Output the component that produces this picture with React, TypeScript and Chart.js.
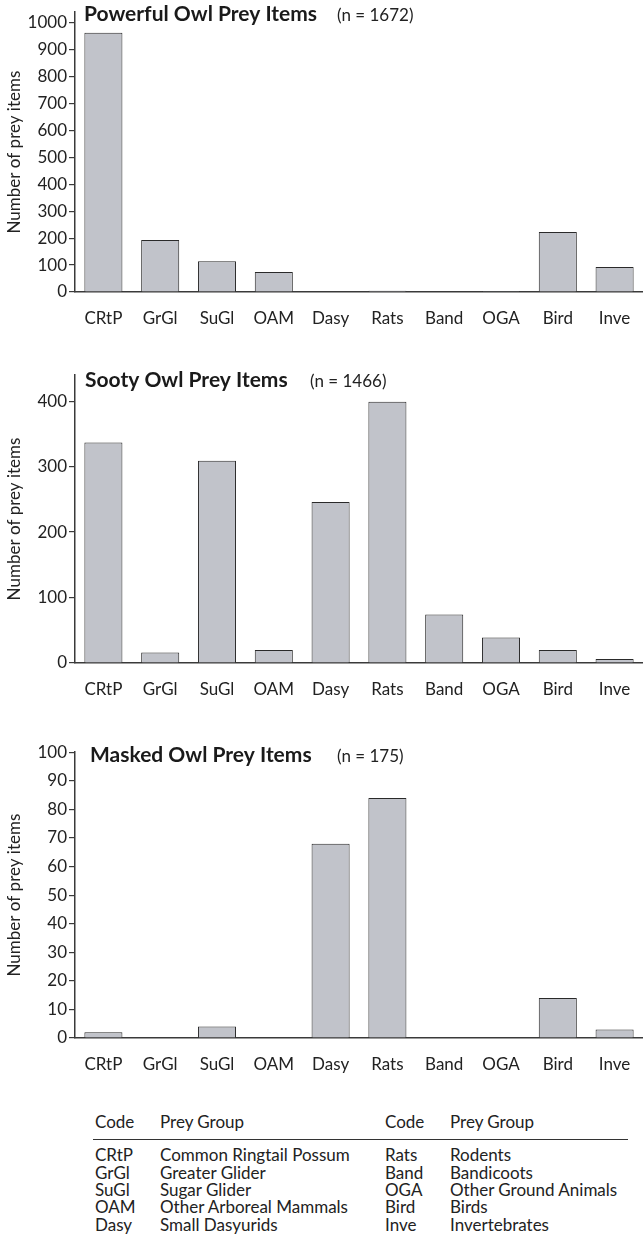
import React, { useEffect, useRef } from "react";
import { Chart, registerables } from "chart.js";
Chart.register(...registerables);

const categories = ["CRtP", "GrGl", "SuGl", "OAM", "Dasy", "Rats", "Band", "OGA", "Bird", "Inve"];
const powerfulValues = [964, 193, 114, 74, 0, 5, 2, 4, 223, 93];
const sootyValues = [337, 16, 309, 20, 246, 399, 74, 39, 20, 6];
const maskedValues = [2, 0, 4, 0, 68, 84, 0, 0, 14, 3];

const powerfulTicks = [0, 100, 200, 300, 400, 500, 600, 700, 800, 900, 1000];
const sootyTicks = [0, 100, 200, 300, 400];
const maskedTicks = [0, 10, 20, 30, 40, 50, 60, 70, 80, 90, 100];

const tableHeader = ["Code", "Prey Group", "Code", "Prey Group"];
const leftCodes = ["CRtP", "GrGl", "SuGl", "OAM", "Dasy"];
const leftGroups = ["Common Ringtail Possum", "Greater Glider", "Sugar Glider", "Other Arboreal Mammals", "Small Dasyurids"];
const rightCodes = ["Rats", "Band", "OGA", "Bird", "Inve"];
const rightGroups = ["Rodents", "Bandicoots", "Other Ground Animals", "Birds", "Invertebrates"];

const FONT = "Lato, 'Open Sans', sans-serif";
const INK = "#222";
const AXIS = "#3a3a3a";
const BAR = "#c1c3ca";
const FS = 17;

const titlePlugin = {
  id: "owlTitle",
  afterDraw(chart: any, _args: any, opts: any) {
    const ctx = chart.ctx;
    ctx.save();
    ctx.fillStyle = "#1a1a1a";
    ctx.textBaseline = "alphabetic";
    ctx.textAlign = "left";
    ctx.font = `bold 21px ${FONT}`;
    ctx.fillText(opts.title, opts.x, opts.y);
    ctx.font = `17px ${FONT}`;
    ctx.fillStyle = INK;
    ctx.fillText(opts.n, opts.nx, opts.y);
    ctx.restore();
  },
};

type PanelProps = {
  top: number;
  height: number;
  padTop: number;
  values: number[];
  ticks: number[];
  max: number;
  step: number;
  title: string;
  n: string;
  titleX: number;
  titleY: number;
  nX: number;
};

function Panel(p: PanelProps) {
  const ref = useRef<HTMLCanvasElement>(null);
  useEffect(() => {
    if (!ref.current) return;
    const chart = new Chart(ref.current, {
      type: "bar",
      data: {
        labels: categories,
        datasets: [
          {
            data: p.values,
            backgroundColor: BAR,
            borderColor: "#2a2a2a",
            borderWidth: 1,
            barPercentage: 0.67,
            categoryPercentage: 1,
          },
        ],
      },
      plugins: [titlePlugin],
      options: {
        responsive: false,
        animation: false,
        layout: { padding: { top: p.padTop, left: 0, right: 0, bottom: 0 } },
        plugins: {
          legend: { display: false },
          tooltip: { enabled: false },
          owlTitle: { title: p.title, n: p.n, x: p.titleX, y: p.titleY - p.top, nx: p.nX },
        } as any,
        scales: {
          x: {
            grid: { display: false },
            border: { display: true, color: AXIS, width: 1.5 },
            ticks: { color: INK, font: { family: FONT, size: FS }, padding: 8, maxRotation: 0, autoSkip: false },
            afterFit: (s: any) => {
              s.height = 38;
            },
          },
          y: {
            min: 0,
            max: p.max,
            grid: { display: true, drawOnChartArea: false, drawTicks: true, tickLength: 6, color: AXIS, lineWidth: 1.2 },
            border: { display: true, color: AXIS, width: 1.5 },
            ticks: {
              stepSize: p.step,
              color: INK,
              font: { family: FONT, size: FS },
              padding: 2,
              callback: (v: any) => String(v),
            },
            afterBuildTicks: (s: any) => {
              s.ticks = p.ticks.map((v) => ({ value: v }));
            },
            title: {
              display: true,
              text: "Number of prey items",
              color: INK,
              font: { family: FONT, size: FS },
              padding: { top: 4, bottom: 0 },
            },
            afterFit: (s: any) => {
              s.width = 75;
            },
          },
        },
      },
    });
    return () => chart.destroy();
  }, []);
  return (
    <div style={{ position: "absolute", left: 0, top: p.top, width: 643, height: p.height }}>
      <canvas ref={ref} width={643} height={p.height} style={{ display: "block" }} />
    </div>
  );
}

const ROW_Y = [1162, 1180, 1197, 1214, 1232];
const HEAD_Y = 1129;
const COL_X = [95, 160, 385, 450];
const TFS = 17;
const TLH = 18;
const BASE_OFF = (TLH - 1.2 * TFS) / 2 + 0.987 * TFS;

function Cell({ x, y, text }: { x: number; y: number; text: string }) {
  return (
    <div
      style={{
        position: "absolute",
        left: x,
        top: y - BASE_OFF,
        fontFamily: FONT,
        fontSize: TFS,
        lineHeight: TLH + "px",
        color: INK,
        whiteSpace: "nowrap",
      }}
    >
      {text}
    </div>
  );
}

export default function App() {
  return (
    <div style={{ position: "absolute", left: 0, top: 0, width: 643, height: 1254, background: "#fff", overflow: "hidden" }}>
      <Panel
        top={0}
        height={330}
        padTop={9}
        values={powerfulValues}
        ticks={powerfulTicks}
        max={1040}
        step={100}
        title="Powerful Owl Prey Items"
        n="(n = 1672)"
        titleX={84}
        titleY={21}
        nX={337}
      />
      <Panel
        top={360}
        height={341}
        padTop={15}
        values={sootyValues}
        ticks={sootyTicks}
        max={440}
        step={100}
        title="Sooty Owl Prey Items"
        n="(n = 1466)"
        titleX={85}
        titleY={387}
        nX={310}
      />
      <Panel
        top={740}
        height={336}
        padTop={10}
        values={maskedValues}
        ticks={maskedTicks}
        max={100}
        step={10}
        title="Masked Owl Prey Items"
        n="(n = 175)"
        titleX={90}
        titleY={762}
        nX={337}
      />
      {tableHeader.map((t, i) => (
        <Cell key={"h" + i} x={COL_X[i]} y={HEAD_Y} text={t} />
      ))}
      <div style={{ position: "absolute", left: 93, top: 1139, width: 535, height: 1.3, background: "#333" }} />
      {leftCodes.map((t, i) => (
        <Cell key={"lc" + i} x={COL_X[0]} y={ROW_Y[i]} text={t} />
      ))}
      {leftGroups.map((t, i) => (
        <Cell key={"lg" + i} x={COL_X[1]} y={ROW_Y[i]} text={t} />
      ))}
      {rightCodes.map((t, i) => (
        <Cell key={"rc" + i} x={COL_X[2]} y={ROW_Y[i]} text={t} />
      ))}
      {rightGroups.map((t, i) => (
        <Cell key={"rg" + i} x={COL_X[3]} y={ROW_Y[i]} text={t} />
      ))}
    </div>
  );
}
